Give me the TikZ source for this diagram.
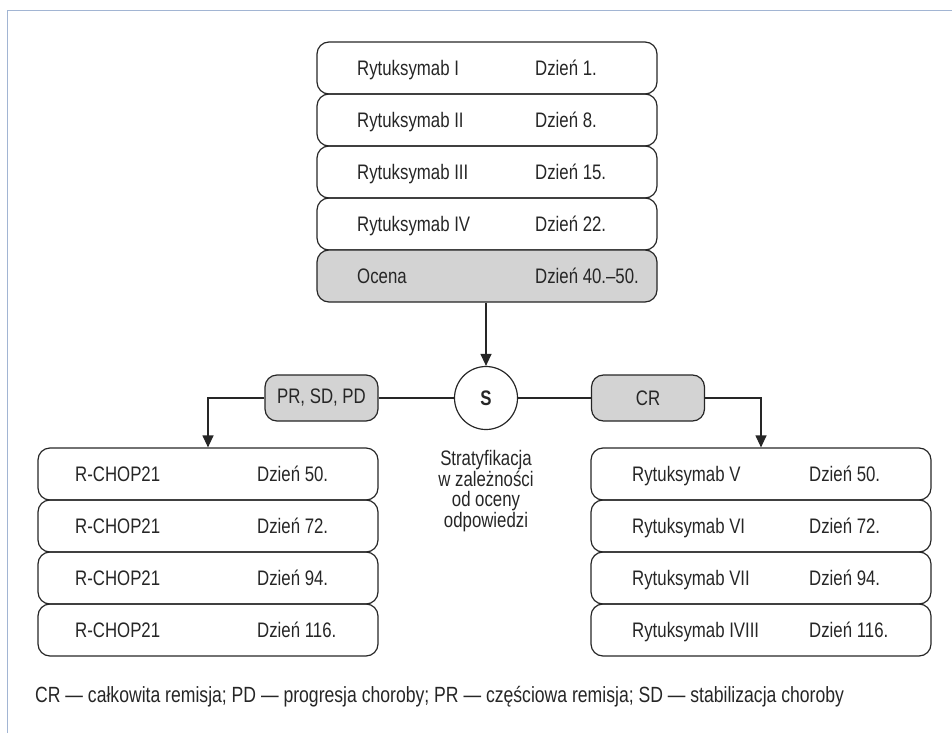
\documentclass[tikz,border=0pt]{standalone}
\usepackage{fontspec}
\setmainfont{Liberation Sans}[FakeStretch=0.8]
\usetikzlibrary{arrows.meta}
\definecolor{linec}{HTML}{262626}
\definecolor{grayc}{HTML}{D3D3D3}
\definecolor{framec}{HTML}{A2B5D3}
\begin{document}
\begin{tikzpicture}[x=1pt,y=-1pt,
  stepbox/.style={draw=linec, line width=1.2pt, rounded corners=12pt, minimum width=340pt, minimum height=52pt, inner sep=0pt},
  graybox/.style={stepbox, fill=grayc},
  tagbox/.style={draw=linec, line width=1.2pt, rounded corners=12pt, fill=grayc, minimum width=113pt, minimum height=46pt, inner sep=0pt, text=linec, font=\fontsize{21}{25}\selectfont},
  lbl/.style={anchor=base west, inner sep=0pt, text=linec, font=\fontsize{21}{25}\selectfont},
  conn/.style={draw=linec, line width=1.2pt},
  arr/.style={conn, -{Triangle[length=12pt,width=11pt]}}
]
\useasboundingbox (0,0) rectangle (952,733);
\draw[framec, line width=1.6pt] (7.5,733) -- (7.5,10.5) -- (952,10.5);

% top stack
\node[stepbox] (t1) at (487,68) {};
\node[stepbox] (t2) at (487,120) {};
\node[stepbox] (t3) at (487,172) {};
\node[stepbox] (t4) at (487,224) {};
\node[graybox] (t5) at (487,276) {};
\node[lbl] (t1a) at (357,75.5) {Rytuksymab I};
\node[lbl] (t1b) at (535,75.5) {Dzień 1.};
\node[lbl] (t2a) at (357,127.5) {Rytuksymab II};
\node[lbl] (t2b) at (535,127.5) {Dzień 8.};
\node[lbl] (t3a) at (357,179.5) {Rytuksymab III};
\node[lbl] (t3b) at (535,179.5) {Dzień 15.};
\node[lbl] (t4a) at (357,231.5) {Rytuksymab IV};
\node[lbl] (t4b) at (535,231.5) {Dzień 22.};
\node[lbl] (t5a) at (357,283.5) {Ocena};
\node[lbl] (t5b) at (535,283.5) {Dzień 40.–50.};

% stratification
\node[circle, draw=linec, line width=1.2pt, minimum size=63pt, inner sep=0pt, font=\fontsize{21}{25}\selectfont\bfseries, text=linec] (s) at (486,398) {S};
\node[tagbox] (pr) at (321.5,398) {PR, SD, PD};
\node[tagbox] (cr) at (648,398) {CR};
\node[align=center, inner sep=0pt, text=linec, font=\fontsize{21}{20.5}\selectfont] (st) at (486,491) {Stratyfikacja\\w zależności\\od oceny\\odpowiedzi};

% left stack
\node[stepbox] (l1) at (208,474) {};
\node[stepbox] (l2) at (208,526) {};
\node[stepbox] (l3) at (208,578) {};
\node[stepbox] (l4) at (208,630) {};
\node[lbl] (l1a) at (75,481.5) {R-CHOP21};
\node[lbl] (l1b) at (257,481.5) {Dzień 50.};
\node[lbl] (l2a) at (75,533.5) {R-CHOP21};
\node[lbl] (l2b) at (257,533.5) {Dzień 72.};
\node[lbl] (l3a) at (75,585.5) {R-CHOP21};
\node[lbl] (l3b) at (257,585.5) {Dzień 94.};
\node[lbl] (l4a) at (75,637.5) {R-CHOP21};
\node[lbl] (l4b) at (257,637.5) {Dzień 116.};

% right stack
\node[stepbox] (r1) at (761,474) {};
\node[stepbox] (r2) at (761,526) {};
\node[stepbox] (r3) at (761,578) {};
\node[stepbox] (r4) at (761,630) {};
\node[lbl] (r1a) at (632,481.5) {Rytuksymab V};
\node[lbl] (r1b) at (809,481.5) {Dzień 50.};
\node[lbl] (r2a) at (632,533.5) {Rytuksymab VI};
\node[lbl] (r2b) at (809,533.5) {Dzień 72.};
\node[lbl] (r3a) at (632,585.5) {Rytuksymab VII};
\node[lbl] (r3b) at (809,585.5) {Dzień 94.};
\node[lbl] (r4a) at (632,637.5) {Rytuksymab IVIII};
\node[lbl] (r4b) at (809,637.5) {Dzień 116.};

% connectors
\draw[arr] (s.north |- t5.south) -- (s.north);
\draw[conn] (pr.east) -- (s.west);
\draw[conn] (s.east) -- (cr.west);
\draw[arr] (pr.west) -| (l1.north);
\draw[arr] (cr.east) -| (r1.north);

% footer
\node[lbl, font=\fontsize{22}{26}\selectfont] (foot) at (35,702) {CR — całkowita remisja; PD — progresja choroby; PR — częściowa remisja; SD — stabilizacja choroby};
\end{tikzpicture}
\end{document}
